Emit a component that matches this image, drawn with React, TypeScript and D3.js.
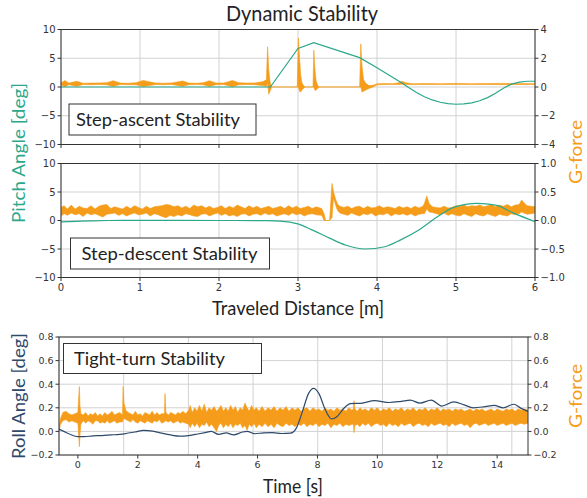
import React from "react";
import * as d3 from "d3";

const W = 587;
const H = 498;
const TEAL = "#2ba88b";
const ORANGE = "#f59d1b";
const NAVY = "#2e4a6b";
const GRID = "#d2d2d2";
const SPINE = "#333333";
const SANS = "Lato, 'Open Sans', sans-serif";
const TICK_FONT = "'DejaVu Sans', sans-serif";

// ---- axis ticks ----
const distTicks = [0, 1, 2, 3, 4, 5, 6];
const pitchTicks = [-10, -5, 0, 5, 10];
const gTicksAscent = [-4, -2, 0, 2, 4];
const gTicksDescent = [-1, -0.5, 0, 0.5, 1];
const timeTicks = [0, 2, 4, 6, 8, 10, 12, 14];
const timeGridTicks = [0, 2, 4, 6, 8, 10, 12, 14]; // grid comes from the twin x axis
const rollTicks = [-0.2, 0, 0.2, 0.4, 0.6, 0.8];

// ---- step ascent ----
// pitch angle [deg] vs distance [m]
const ascentPitch: [number, number][] = [
  [0, 0], [2.65, 0], [3.0, 6.7], [3.2, 7.7], [3.78, 5.1], [4.0, 3.35], [4.29, 0.9],
  [4.4, -0.1], [4.5, -0.95], [4.6, -1.7], [4.7, -2.25], [4.8, -2.65], [4.9, -2.9],
  [5.0, -3.0], [5.1, -2.95], [5.2, -2.75], [5.3, -2.4], [5.4, -1.85], [5.5, -1.1],
  [5.6, -0.2], [5.7, 0.5], [5.8, 0.85], [5.9, 1.0], [6.0, 1.0],
];
// G-force envelope: [distance, low, high]
const ascentG: [number, number, number][] = [
  [0.0, 0.15, 0.28], [0.05, 0.02, 0.45], [0.1, 0.16, 0.27], [0.2, 0.05, 0.4],
  [0.28, 0.17, 0.26], [0.38, 0.16, 0.27], [0.48, 0.17, 0.28], [0.58, 0.15, 0.3],
  [0.66, 0.04, 0.44], [0.75, 0.17, 0.27], [0.85, 0.16, 0.26], [0.95, 0.15, 0.3],
  [1.04, 0.03, 0.46], [1.1, 0.08, 0.38], [1.2, 0.17, 0.27], [1.3, 0.16, 0.26],
  [1.4, 0.17, 0.28], [1.54, 0.05, 0.42], [1.62, 0.16, 0.27], [1.72, 0.17, 0.26],
  [1.8, 0.15, 0.3], [1.88, 0.04, 0.44], [1.96, 0.16, 0.28], [2.06, 0.17, 0.27],
  [2.17, 0.02, 0.45], [2.25, 0.15, 0.3], [2.35, 0.17, 0.27], [2.45, 0.16, 0.28],
  [2.55, 0.1, 0.36], [2.6, 0.05, 0.5],
  [2.615, 0.3, 2.8], [2.63, -0.5, 1.2], [2.645, -0.3, 0.4], [2.66, -0.1, 0.1], [2.67, 0, 0],
  [2.99, 0, 0], [3.005, 0, 3.4], [3.02, -0.3, 2.0], [3.035, -0.35, 0.8], [3.05, -0.2, 0.3],
  [3.07, -0.1, 0.1], [3.09, 0, 0],
  [3.19, 0, 0], [3.2, 0, 2.56], [3.215, -0.25, 1.2], [3.23, -0.2, 0.4], [3.25, -0.1, 0.1],
  [3.27, 0, 0],
  [3.78, 0, 0], [3.795, 0, 3.0], [3.81, -0.35, 1.5], [3.83, -0.3, 0.5], [3.86, -0.2, 0.25],
  [3.9, -0.1, 0.1], [3.95, 0.0, 0.12], [4.0, 0.15, 0.22],
  [4.1, 0.17, 0.24], [4.2, 0.18, 0.23], [4.28, 0.18, 0.3], [4.32, 0.2, 0.4], [4.36, 0.18, 0.3],
  [4.45, 0.17, 0.23], [4.6, 0.18, 0.24], [4.8, 0.17, 0.23], [5.0, 0.18, 0.25], [5.2, 0.17, 0.23],
  [5.4, 0.18, 0.24], [5.6, 0.16, 0.25], [5.8, 0.17, 0.24], [6.0, 0.18, 0.23],
];

// ---- step descent ----
const descentPitch: [number, number][] = [
  [0, -0.25], [0.2, -0.15], [0.4, -0.05], [0.6, 0], [1.0, 0.02], [2.0, 0], [2.6, -0.02],
  [2.77, -0.1], [3.0, -0.6], [3.17, -1.6], [3.4, -3.1], [3.6, -4.3], [3.85, -5.0],
  [4.1, -4.6], [4.3, -3.4], [4.53, -1.66], [4.76, 0.6], [4.97, 2.3], [5.27, 3.0],
  [5.5, 2.7], [5.73, 1.3], [6.0, -0.2],
];
const descentG: [number, number, number][] = [
  [0.0, 0.08, 0.23], [0.04, 0.12, 0.26], [0.08, 0.09, 0.2], [0.13, 0.13, 0.27], [0.18, 0.1, 0.2],
  [0.23, 0.12, 0.25], [0.28, 0.07, 0.22], [0.33, 0.13, 0.21], [0.38, 0.1, 0.26], [0.43, 0.12, 0.2],
  [0.48, 0.09, 0.25], [0.53, 0.06, 0.27], [0.58, 0.11, 0.28], [0.63, 0.12, 0.21], [0.68, 0.13, 0.24],
  [0.73, 0.09, 0.22], [0.78, 0.12, 0.2], [0.83, 0.08, 0.25], [0.88, 0.11, 0.21], [0.93, 0.13, 0.26],
  [0.98, 0.1, 0.23], [1.03, 0.11, 0.2], [1.08, 0.13, 0.25], [1.13, 0.08, 0.21], [1.18, 0.12, 0.24],
  [1.23, 0.1, 0.25], [1.28, 0.07, 0.26], [1.33, 0.05, 0.28], [1.38, 0.09, 0.27], [1.43, 0.07, 0.24],
  [1.48, 0.1, 0.26], [1.53, 0.08, 0.22], [1.58, 0.12, 0.25], [1.63, 0.1, 0.21], [1.68, 0.08, 0.27],
  [1.73, 0.07, 0.24], [1.78, 0.11, 0.26], [1.83, 0.12, 0.22], [1.88, 0.08, 0.25], [1.93, 0.11, 0.21],
  [1.98, 0.13, 0.23], [2.03, 0.09, 0.26], [2.08, 0.12, 0.21], [2.13, 0.08, 0.25], [2.18, 0.1, 0.22],
  [2.23, 0.07, 0.27], [2.28, 0.11, 0.24], [2.33, 0.12, 0.21], [2.38, 0.08, 0.26], [2.43, 0.11, 0.22],
  [2.48, 0.12, 0.25], [2.53, 0.09, 0.21], [2.58, 0.13, 0.23], [2.63, 0.1, 0.25], [2.68, 0.12, 0.21],
  [2.73, 0.08, 0.23], [2.78, 0.1, 0.25], [2.83, 0.12, 0.21], [2.88, 0.09, 0.26], [2.93, 0.13, 0.22],
  [2.98, 0.1, 0.25], [3.03, 0.12, 0.21], [3.08, 0.08, 0.23], [3.13, 0.11, 0.25], [3.18, 0.12, 0.21],
  [3.23, 0.1, 0.24], [3.3, 0.09, 0.21], [3.33, 0, 0.12], [3.35, 0, 0], [3.4, 0, 0],
  [3.43, 0.05, 0.65], [3.45, 0.4, 0.5], [3.48, 0.25, 0.36], [3.5, 0.18, 0.29], [3.53, 0.13, 0.25],
  [3.58, 0.11, 0.23], [3.63, 0.09, 0.25], [3.68, 0.13, 0.21], [3.73, 0.1, 0.24], [3.78, 0.08, 0.25],
  [3.83, 0.12, 0.21], [3.88, 0.1, 0.25], [3.93, 0.13, 0.22], [3.98, 0.08, 0.23], [4.03, 0.11, 0.26],
  [4.08, 0.1, 0.22], [4.13, 0.13, 0.24], [4.18, 0.08, 0.23], [4.23, 0.12, 0.21], [4.28, 0.1, 0.25],
  [4.33, 0.12, 0.22], [4.38, 0.09, 0.24], [4.43, 0.12, 0.21], [4.48, 0.08, 0.25], [4.53, 0.11, 0.22],
  [4.58, 0.12, 0.25], [4.6, 0.12, 0.3], [4.63, 0.2, 0.43], [4.66, 0.15, 0.3], [4.7, 0.14, 0.24],
  [4.75, 0.12, 0.23], [4.8, 0.1, 0.22], [4.85, 0.13, 0.25], [4.9, 0.09, 0.22], [4.95, 0.12, 0.23],
  [5.0, 0.09, 0.26], [5.05, 0.08, 0.25], [5.1, 0.12, 0.27], [5.15, 0.09, 0.24], [5.2, 0.07, 0.26],
  [5.25, 0.12, 0.25], [5.3, 0.09, 0.27], [5.35, 0.08, 0.24], [5.4, 0.12, 0.26], [5.45, 0.09, 0.28],
  [5.5, 0.07, 0.24], [5.55, 0.11, 0.27], [5.6, 0.09, 0.25], [5.65, 0.08, 0.28], [5.7, 0.12, 0.24],
  [5.75, 0.1, 0.27], [5.8, 0.12, 0.28], [5.83, 0.15, 0.36], [5.86, 0.13, 0.31], [5.9, 0.11, 0.26],
  [5.95, 0.12, 0.25], [6.0, 0.13, 0.24],
];

// ---- tight turn ----
// roll angle [deg] vs time [s]
const turnRoll: [number, number][] = [
  [-0.63, 0.02], [-0.3, -0.02], [0.0, -0.045], [0.2, -0.045], [0.5, -0.038], [0.8, -0.035],
  [1.1, -0.03], [1.4, -0.025], [1.6, -0.018], [1.9, -0.005], [2.2, 0.008], [2.5, 0.002],
  [2.8, -0.015], [3.1, -0.03], [3.4, -0.04], [3.7, -0.035], [4.0, -0.022], [4.25, -0.01],
  [4.45, 0.0], [4.7, -0.025], [4.95, -0.012], [5.2, -0.03], [5.5, -0.005], [5.65, 0.0],
  [5.9, -0.02], [6.2, -0.012], [6.5, -0.01], [6.8, -0.018], [7.1, -0.015], [7.3, 0.03],
  [7.5, 0.17], [7.7, 0.32], [7.87, 0.365], [8.05, 0.32], [8.25, 0.19], [8.47, 0.105],
  [8.65, 0.125], [8.9, 0.2], [9.1, 0.235], [9.5, 0.24], [9.9, 0.26], [10.4, 0.245],
  [10.8, 0.255], [11.1, 0.265], [11.42, 0.24], [11.8, 0.265], [12.15, 0.215], [12.55, 0.25],
  [12.9, 0.225], [13.2, 0.2], [13.6, 0.21], [13.9, 0.22], [14.2, 0.2], [14.55, 0.23],
  [14.8, 0.195], [15.03, 0.17],
];
const turnG: [number, number, number][] = [
  [-0.63, 0.0, 0.03], [-0.58, 0.06, 0.11], [-0.5, 0.09, 0.16], [-0.4, 0.1, 0.17], [-0.3, 0.08, 0.15],
  [-0.2, 0.09, 0.14], [-0.1, 0.08, 0.15], [0.0, 0.07, 0.16], [0.03, -0.05, 0.3], [0.05, -0.13, 0.38],
  [0.07, -0.03, 0.22], [0.1, 0.06, 0.15], [0.18, 0.09, 0.14], [0.26, 0.07, 0.16], [0.34, 0.09, 0.13],
  [0.42, 0.08, 0.15], [0.5, 0.06, 0.14], [0.58, 0.09, 0.16], [0.66, 0.09, 0.13], [0.74, 0.07, 0.15],
  [0.82, 0.08, 0.13], [0.9, 0.07, 0.16], [0.98, 0.09, 0.14], [1.06, 0.07, 0.15], [1.14, 0.08, 0.17],
  [1.22, 0.09, 0.14], [1.3, 0.07, 0.15], [1.4, 0.08, 0.16],
  [1.49, 0.08, 0.14], [1.51, 0.1, 0.38], [1.54, 0.11, 0.24], [1.6, 0.1, 0.18], [1.68, 0.09, 0.16],
  [1.76, 0.08, 0.15], [1.84, 0.1, 0.14], [1.92, 0.08, 0.17], [2.0, 0.07, 0.14], [2.08, 0.09, 0.15],
  [2.16, 0.08, 0.13], [2.24, 0.07, 0.16], [2.32, 0.09, 0.15], [2.4, 0.08, 0.14], [2.48, 0.07, 0.17],
  [2.56, 0.09, 0.14], [2.64, 0.08, 0.16], [2.72, 0.1, 0.14], [2.8, 0.07, 0.15],
  [2.89, 0.08, 0.15], [2.91, 0.09, 0.32], [2.94, 0.09, 0.16], [3.02, 0.08, 0.14],
  [3.1, 0.09, 0.16], [3.18, 0.07, 0.15], [3.26, 0.08, 0.14], [3.34, 0.09, 0.16], [3.42, 0.07, 0.15],
  [3.5, 0.08, 0.17], [3.6, 0.07, 0.15], [3.7, 0.06, 0.18], [3.75, 0.03, 0.22], [3.82, 0.07, 0.16],
  [3.9, 0.04, 0.2], [3.98, 0.07, 0.17], [4.06, 0.03, 0.22], [4.14, 0.06, 0.17], [4.22, 0.05, 0.23],
  [4.3, 0.08, 0.16], [4.38, 0.04, 0.2], [4.46, 0.06, 0.18], [4.55, 0.03, 0.21], [4.63, 0.0, 0.17],
  [4.7, 0.05, 0.19], [4.78, 0.07, 0.22], [4.86, 0.03, 0.17], [4.94, 0.06, 0.2], [5.02, 0.04, 0.17],
  [5.1, 0.07, 0.22], [5.18, 0.03, 0.18], [5.26, 0.06, 0.21], [5.34, 0.05, 0.16], [5.42, 0.07, 0.2],
  [5.5, 0.03, 0.18], [5.58, 0.05, 0.24], [5.65, 0.01, 0.2], [5.72, 0.06, 0.17], [5.8, 0.04, 0.22],
  [5.88, 0.07, 0.18], [5.96, 0.03, 0.2], [6.05, 0.06, 0.17], [6.15, 0.04, 0.21], [6.25, 0.07, 0.17],
  [6.35, 0.04, 0.2], [6.45, 0.06, 0.18], [6.55, 0.03, 0.21], [6.65, 0.07, 0.17], [6.75, 0.05, 0.2],
  [6.85, 0.04, 0.18], [6.95, 0.07, 0.21], [7.05, 0.05, 0.17], [7.15, 0.06, 0.2], [7.25, 0.04, 0.18],
  [7.35, 0.06, 0.2], [7.45, 0.05, 0.17], [7.55, 0.07, 0.19], [7.65, 0.04, 0.2], [7.75, 0.06, 0.17],
  [7.85, 0.05, 0.2], [7.95, 0.07, 0.18], [8.05, 0.04, 0.19], [8.15, 0.06, 0.17], [8.25, 0.05, 0.2],
  [8.35, 0.07, 0.18], [8.45, 0.03, 0.19], [8.55, 0.06, 0.17], [8.65, 0.05, 0.2], [8.75, 0.07, 0.18],
  [8.85, 0.04, 0.19], [8.95, 0.06, 0.17], [9.05, 0.05, 0.2], [9.15, 0.06, 0.18], [9.2, 0.06, 0.19],
  [9.22, -0.01, 0.26], [9.25, 0.05, 0.19], [9.33, 0.06, 0.17], [9.42, 0.04, 0.2], [9.5, 0.07, 0.18],
  [9.6, 0.05, 0.19], [9.7, 0.07, 0.17], [9.8, 0.04, 0.2], [9.9, 0.06, 0.18], [10.0, 0.07, 0.2],
  [10.1, 0.05, 0.17], [10.2, 0.06, 0.19], [10.3, 0.04, 0.18], [10.4, 0.07, 0.2], [10.5, 0.05, 0.17],
  [10.6, 0.06, 0.19], [10.7, 0.04, 0.18], [10.8, 0.07, 0.2], [10.9, 0.05, 0.17], [11.0, 0.06, 0.19],
  [11.1, 0.07, 0.18], [11.2, 0.04, 0.2], [11.3, 0.06, 0.17], [11.4, 0.07, 0.19], [11.5, 0.05, 0.18],
  [11.6, 0.06, 0.2], [11.7, 0.04, 0.17], [11.8, 0.07, 0.19], [11.9, 0.05, 0.18], [12.0, 0.06, 0.2],
  [12.1, 0.07, 0.17], [12.2, 0.05, 0.19], [12.3, 0.06, 0.18], [12.4, 0.04, 0.19], [12.5, 0.07, 0.17],
  [12.6, 0.05, 0.19], [12.7, 0.06, 0.18], [12.8, 0.07, 0.19], [12.9, 0.05, 0.17], [13.0, 0.06, 0.18],
  [13.1, 0.03, 0.19], [13.2, 0.06, 0.17], [13.3, 0.07, 0.19], [13.4, 0.05, 0.18], [13.5, 0.06, 0.19],
  [13.6, 0.07, 0.17], [13.7, 0.05, 0.18], [13.8, 0.06, 0.19], [13.9, 0.07, 0.17], [14.0, 0.05, 0.19],
  [14.1, 0.06, 0.18], [14.2, 0.07, 0.17], [14.3, 0.05, 0.19], [14.4, 0.06, 0.18], [14.5, 0.07, 0.19],
  [14.6, 0.05, 0.17], [14.7, 0.06, 0.19], [14.8, 0.07, 0.18], [14.9, 0.06, 0.19], [15.03, 0.07, 0.18],
];

type Box = { l: number; r: number; t: number; b: number };
type Scale = d3.ScaleLinear<number, number>;

const fmtInt = d3.format("d");
const fmt1 = d3.format(".1f");

function Frame({
  id, box, x, yL, xTicks, gridX, gridTicks, yLTicks, yRTicks, yR, fmtL, fmtR, xLabels, tickSize, children,
}: {
  id: string; box: Box; x: Scale; yL: Scale; yR: Scale; xTicks: number[]; gridX: Scale; gridTicks: number[];
  yLTicks: number[]; yRTicks: number[]; fmtL: (v: number) => string; fmtR: (v: number) => string;
  xLabels: boolean; tickSize: number; children?: React.ReactNode;
}) {
  const tickCol = "#333";
  return (
    <g>
      <defs>
        <clipPath id={id}>
          <rect x={box.l} y={box.t} width={box.r - box.l} height={box.b - box.t} />
        </clipPath>
      </defs>
      {/* grid */}
      {gridTicks.map((t) => (
        <line key={"gx" + t} x1={gridX(t)} x2={gridX(t)} y1={box.t} y2={box.b} stroke={GRID} strokeWidth={1} />
      ))}
      {yLTicks.map((t) => (
        <line key={"gy" + t} x1={box.l} x2={box.r} y1={yL(t)} y2={yL(t)} stroke={GRID} strokeWidth={1} />
      ))}
      <g clipPath={`url(#${id})`}>{children}</g>
      {/* spines */}
      <rect x={box.l} y={box.t} width={box.r - box.l} height={box.b - box.t} fill="none" stroke={SPINE} strokeWidth={1} />
      {xTicks.map((t) => (
        <g key={"xt" + t}>
          <line x1={x(t)} x2={x(t)} y1={box.b} y2={box.b + 3.5} stroke={tickCol} />
          {xLabels && (
            <text x={x(t)} y={box.b + 13} textAnchor="middle" fontSize={tickSize} fontFamily={TICK_FONT} fill="#333">
              {fmtInt(t)}
            </text>
          )}
        </g>
      ))}
      {yLTicks.map((t) => (
        <g key={"yl" + t}>
          <line x1={box.l - 3.5} x2={box.l} y1={yL(t)} y2={yL(t)} stroke={tickCol} />
          <text x={box.l - 5.5} y={yL(t)} dy="0.35em" textAnchor="end" fontSize={tickSize} fontFamily={TICK_FONT} fill="#333">
            {fmtL(t)}
          </text>
        </g>
      ))}
      {yRTicks.map((t) => (
        <g key={"yr" + t}>
          <line x1={box.r} x2={box.r + 3.5} y1={yR(t)} y2={yR(t)} stroke={tickCol} />
          <text x={box.r + 5.5} y={yR(t)} dy="0.35em" textAnchor="start" fontSize={tickSize} fontFamily={TICK_FONT} fill="#333">
            {fmtR(t)}
          </text>
        </g>
      ))}
    </g>
  );
}

function LegendBox({ x, y, w, h, label, tx, ty, tw }: { x: number; y: number; w: number; h: number; label: string; tx: number; ty: number; tw: number }) {
  return (
    <g>
      <rect x={x} y={y} width={w} height={h} fill="white" stroke={SPINE} strokeWidth={1} />
      <text x={tx} y={ty} fontSize={18} fontFamily={SANS} fill="#222" textLength={tw} lengthAdjust="spacingAndGlyphs">
        {label}
      </text>
    </g>
  );
}

export default function App() {
  const topBox: Box = { l: 61, r: 535, t: 29.5, b: 144.5 };
  const midBox: Box = { l: 61, r: 535, t: 163.5, b: 277.5 };
  const botBox: Box = { l: 59, r: 528, t: 337, b: 455 };

  const xTop = d3.scaleLinear().domain([0, 6]).range([topBox.l, topBox.r]);
  const yTopL = d3.scaleLinear().domain([-10, 10]).range([topBox.b, topBox.t]);
  const yTopR = d3.scaleLinear().domain([-4, 4]).range([topBox.b, topBox.t]);

  const xMid = d3.scaleLinear().domain([0, 6]).range([midBox.l, midBox.r]);
  const yMidL = d3.scaleLinear().domain([-10, 10]).range([midBox.b, midBox.t]);
  const yMidR = d3.scaleLinear().domain([-1, 1]).range([midBox.b, midBox.t]);

  const xBot = d3.scaleLinear().domain([-0.63, 15.03]).range([botBox.l, botBox.r]);
  const xBotGrid = d3.scaleLinear().domain([0, 14.5]).range([botBox.l, botBox.r]);
  const yBotL = d3.scaleLinear().domain([-0.2, 0.8]).range([botBox.b, botBox.t]);
  const yBotR = d3.scaleLinear().domain([-0.2, 0.8]).range([botBox.b, botBox.t]);

  const bandPath = (data: [number, number, number][], x: Scale, y: Scale) =>
    d3.area<[number, number, number]>().x((d) => x(d[0])).y0((d) => y(d[1])).y1((d) => y(d[2]))(data) || "";

  const linePath = (data: [number, number][], x: Scale, y: Scale, curve: d3.CurveFactory) =>
    d3.line<[number, number]>().x((d) => x(d[0])).y((d) => y(d[1])).curve(curve)(data) || "";

  return (
    <svg width={W} height={H} style={{ position: "absolute", left: 0, top: 0, background: "white" }}>
      <rect width={W} height={H} fill="white" />
      <text x={302} y={21} textAnchor="middle" fontSize={21} fontFamily={SANS} fill="#222" textLength={152} lengthAdjust="spacingAndGlyphs">
        Dynamic Stability
      </text>

      {/* step ascent */}
      <Frame id="c1" box={topBox} x={xTop} yL={yTopL} yR={yTopR} xTicks={distTicks} gridX={xTop} gridTicks={distTicks}
        yLTicks={pitchTicks} yRTicks={gTicksAscent} fmtL={fmtInt} fmtR={fmtInt} xLabels={false} tickSize={10}>
        <path d={bandPath(ascentG, xTop, yTopR)} fill={ORANGE} stroke={ORANGE} strokeWidth={0.6} strokeLinejoin="round" />
        <path d={linePath(ascentPitch, xTop, yTopL, d3.curveLinear)} fill="none" stroke={TEAL} strokeWidth={1.2} />
      </Frame>
      <LegendBox x={69} y={104} w={187} h={31} label="Step-ascent Stability" tx={76} ty={126} tw={164} />

      {/* step descent */}
      <Frame id="c2" box={midBox} x={xMid} yL={yMidL} yR={yMidR} xTicks={distTicks} gridX={xMid} gridTicks={distTicks}
        yLTicks={pitchTicks} yRTicks={gTicksDescent} fmtL={fmtInt} fmtR={fmt1} xLabels={true} tickSize={10}>
        <path d={bandPath(descentG, xMid, yMidR)} fill={ORANGE} stroke={ORANGE} strokeWidth={0.6} strokeLinejoin="round" />
        <path d={linePath(descentPitch, xMid, yMidL, d3.curveMonotoneX)} fill="none" stroke={TEAL} strokeWidth={1.2} />
      </Frame>
      <LegendBox x={70.5} y={238} w={199} h={31} label="Step-descent Stability" tx={81.5} ty={260} tw={176} />

      <text x={298} y={315} textAnchor="middle" fontSize={19} fontFamily={SANS} fill="#222" textLength={172} lengthAdjust="spacingAndGlyphs">
        Traveled Distance [m]
      </text>

      {/* tight turn */}
      <Frame id="c3" box={botBox} x={xBot} yL={yBotL} yR={yBotR} xTicks={timeTicks} gridX={xBotGrid} gridTicks={timeGridTicks}
        yLTicks={rollTicks} yRTicks={rollTicks} fmtL={fmt1} fmtR={fmt1} xLabels={true} tickSize={9.5}>
        <path d={bandPath(turnG, xBot, yBotR)} fill={ORANGE} stroke={ORANGE} strokeWidth={0.6} strokeLinejoin="round" />
        <path d={linePath(turnRoll, xBot, yBotL, d3.curveMonotoneX)} fill="none" stroke={NAVY} strokeWidth={1.2} />
      </Frame>
      <LegendBox x={63.5} y={343.5} w={198} h={30} label="Tight-turn Stability" tx={74} ty={365} tw={151} />

      <text x={293} y={493} textAnchor="middle" fontSize={19} fontFamily={SANS} fill="#222" textLength={60} lengthAdjust="spacingAndGlyphs">
        Time [s]
      </text>

      {/* axis titles */}
      <text transform="translate(25,153) rotate(-90)" textAnchor="middle" fontSize={18} fontFamily={SANS} fill={TEAL} textLength={140} lengthAdjust="spacingAndGlyphs">
        Pitch Angle [deg]
      </text>
      <text transform="translate(582,152) rotate(-90)" textAnchor="middle" fontSize={17} fontFamily={SANS} fill={ORANGE} textLength={64} lengthAdjust="spacingAndGlyphs">
        G-force
      </text>
      <text transform="translate(25,396) rotate(-90)" textAnchor="middle" fontSize={18} fontFamily={SANS} fill={NAVY} textLength={126} lengthAdjust="spacingAndGlyphs">
        Roll Angle [deg]
      </text>
      <text transform="translate(582,396) rotate(-90)" textAnchor="middle" fontSize={17} fontFamily={SANS} fill={ORANGE} textLength={64} lengthAdjust="spacingAndGlyphs">
        G-force
      </text>
    </svg>
  );
}
